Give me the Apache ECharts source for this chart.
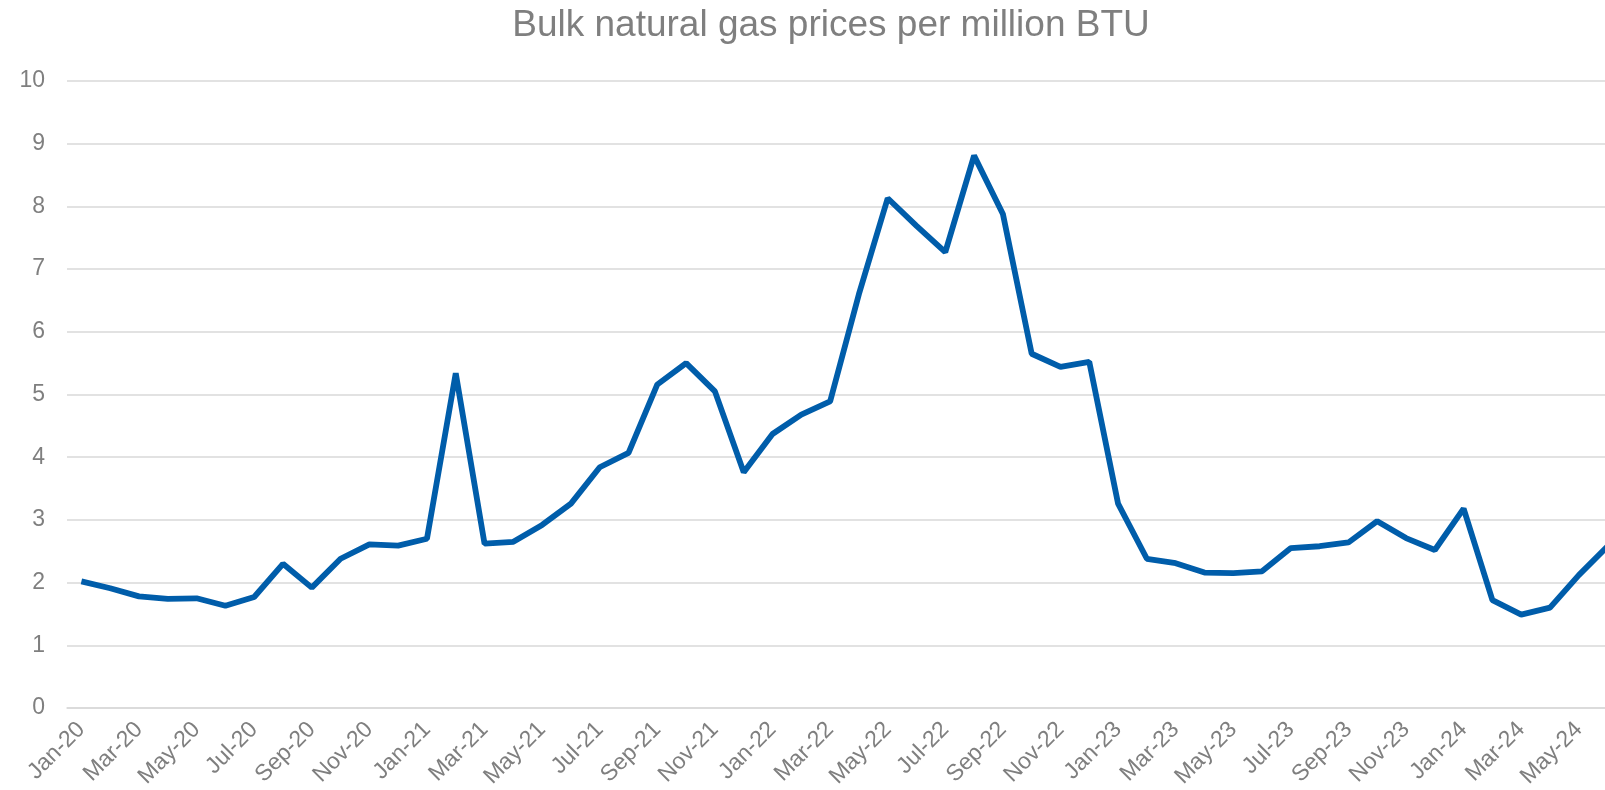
<!DOCTYPE html>
<html>
<head>
<meta charset="utf-8">
<title>Bulk natural gas prices</title>
<script src="https://cdn.jsdelivr.net/npm/echarts@6/dist/echarts.min.js"></script>
<style>
    html, body { margin: 0; padding: 0; background: #fff; }
    #chartGas { width: 1605px; height: 790px; }
</style>
</head>
<body>
<div id="chartGas"></div>
<script>
    // months shown on the x axis
    const months = [
        'Jan-20', 'Feb-20', 'Mar-20', 'Apr-20', 'May-20', 'Jun-20', 'Jul-20', 'Aug-20', 'Sep-20', 'Oct-20', 'Nov-20', 'Dec-20',
        'Jan-21', 'Feb-21', 'Mar-21', 'Apr-21', 'May-21', 'Jun-21', 'Jul-21', 'Aug-21', 'Sep-21', 'Oct-21', 'Nov-21', 'Dec-21',
        'Jan-22', 'Feb-22', 'Mar-22', 'Apr-22', 'May-22', 'Jun-22', 'Jul-22', 'Aug-22', 'Sep-22', 'Oct-22', 'Nov-22', 'Dec-22',
        'Jan-23', 'Feb-23', 'Mar-23', 'Apr-23', 'May-23', 'Jun-23', 'Jul-23', 'Aug-23', 'Sep-23', 'Oct-23', 'Nov-23', 'Dec-23',
        'Jan-24', 'Feb-24', 'Mar-24', 'Apr-24', 'May-24', 'Jun-24'
    ];

    // $ per million BTU
    const prices = [
        2.02, 1.91, 1.78, 1.74, 1.75, 1.63, 1.77, 2.30, 1.92, 2.38, 2.61, 2.59,
        2.70, 5.34, 2.62, 2.65, 2.92, 3.26, 3.84, 4.07, 5.16, 5.50, 5.05, 3.76,
        4.37, 4.68, 4.89, 6.60, 8.13, 7.69, 7.27, 8.81, 7.88, 5.65, 5.44, 5.52,
        3.26, 2.38, 2.31, 2.16, 2.15, 2.18, 2.55, 2.58, 2.64, 2.98, 2.71, 2.52,
        3.18, 1.72, 1.49, 1.60, 2.12, 2.58
    ];

    const yMin = 0;
    const yMax = 10;
    const yStep = 1;

    const grey = '#7f7f7f';
    const gridGrey = '#d9d9d9';
    const font = '"Liberation Sans", Arial, sans-serif';

    const option = {
        animation: false,
        title: {
            text: 'Bulk natural gas prices per million BTU',
            left: 826,
            textAlign: 'center',
            top: 2,
            textStyle: {
                color: grey,
                fontFamily: font,
                fontSize: 37,
                fontWeight: 'normal'
            }
        },
        grid: {
            left: 67,
            top: 81,
            right: -17,   // the picture is cut off just past Jun-24
            height: 627,
            outerBoundsMode: 'none'
        },
        xAxis: {
            type: 'category',
            data: months,
            boundaryGap: true,
            axisLine: {
                lineStyle: { color: gridGrey, width: 1.5 }
            },
            axisTick: {
                interval: 1,
                length: 6,
                lineStyle: { color: gridGrey, width: 1.5 }
            },
            axisLabel: {
                interval: 1,
                rotate: 45,
                margin: 18,
                color: grey,
                fontFamily: font,
                fontSize: 23
            }
        },
        yAxis: {
            type: 'value',
            min: yMin,
            max: yMax,
            interval: yStep,
            axisLine: { show: false },
            axisTick: { show: false },
            axisLabel: {
                margin: 22,
                color: grey,
                fontFamily: font,
                fontSize: 23
            },
            splitLine: {
                lineStyle: { color: gridGrey, width: 1.5 }
            }
        },
        series: [
            {
                name: 'Henry Hub',
                type: 'line',
                data: prices,
                symbol: 'none',
                lineStyle: { color: '#005DAA', width: 5.8 }
            }
        ]
    };

    const myChart = echarts.init(document.getElementById('chartGas'));
    myChart.setOption(option);
</script>
</body>
</html>
